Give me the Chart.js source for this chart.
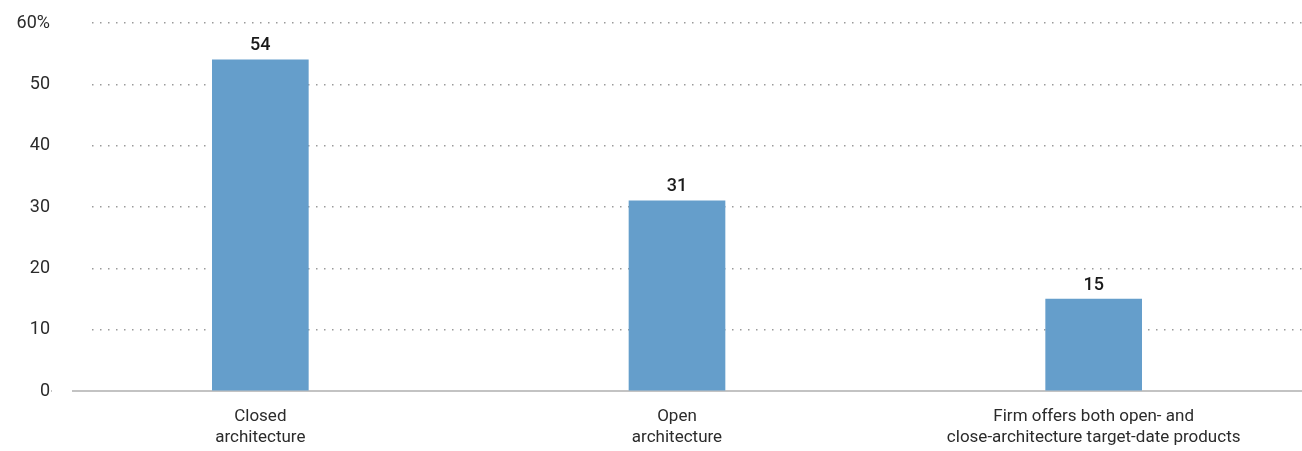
<!DOCTYPE html>
<html><head><meta charset="utf-8">
<script src="https://cdn.jsdelivr.net/npm/chart.js@4"></script>
<style>html,body{margin:0;padding:0;background:#fff}#wrap{width:1302px;height:451px}</style>
</head><body><div id="wrap"><canvas id="c" width="1302" height="451"></canvas></div>
<script>
const categories = [["Closed","architecture"],["Open","architecture"],["Firm offers both open- and","close-architecture target-date products"]];
const values = [54, 31, 15];
const yTicks = [0, 10, 20, 30, 40, 50, 60];
const FONT = "Roboto, 'Open Sans', sans-serif";

const coverPlugin = {
  id: 'cover',
  beforeDatasetsDraw(chart) {
    const a = chart.chartArea, ctx = chart.ctx;
    ctx.save(); ctx.fillStyle = '#fff';
    ctx.fillRect(a.left, a.top - 4, 40, a.bottom - a.top + 1);
    ctx.fillRect(a.left, a.bottom - 3, 20, 6);
    ctx.restore();
  }
};
const labelPlugin = {
  id: 'vlabels',
  afterDatasetsDraw(chart) {
    const ctx = chart.ctx, meta = chart.getDatasetMeta(0);
    ctx.save();
    ctx.font = "500 18px " + FONT; ctx.fillStyle = '#1a1a1a';
    ctx.textAlign = 'center'; ctx.textBaseline = 'bottom';
    meta.data.forEach((bar, i) => ctx.fillText(String(values[i]), bar.x, bar.y - 5));
    ctx.restore();
  }
};

new Chart(document.getElementById('c'), {
  type: 'bar',
  data: { labels: categories, datasets: [{ data: values, backgroundColor: '#659ecb', barThickness: 96 }] },
  plugins: [coverPlugin, labelPlugin],
  options: {
    responsive: false, animation: false,
    layout: { padding: { top: 23, right: 0, left: 0, bottom: 0 } },
    plugins: { legend: { display: false }, tooltip: { enabled: false } },
    scales: {
      x: {
        grid: { display: false, drawTicks: false },
        border: { color: '#c3c3c3', width: 2 },
        ticks: { color: '#2b2b2b', font: { family: FONT, size: 17 }, padding: 16, maxRotation: 0, autoSkip: false },
        afterFit(s) { s.height = 60; }
      },
      y: {
        min: 0, max: 60,
        afterBuildTicks(s) { s.ticks = yTicks.map(v => ({ value: v })); },
        grid: { color: '#9a9a9a', lineWidth: 1.5, drawTicks: false },
        border: { display: false, dash: [1.5, 6.5] },
        ticks: { color: '#2b2b2b', font: { family: FONT, size: 18 }, padding: 2,
          callback: v => v === 60 ? v + '%' : String(v) },
        afterFit(s) { s.width = 52; }
      }
    }
  }
});
</script></body></html>
